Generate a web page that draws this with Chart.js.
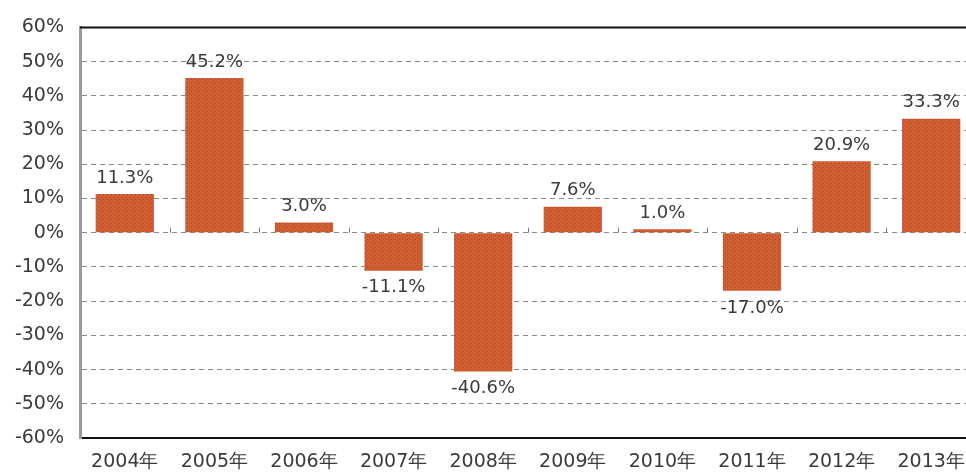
<!DOCTYPE html>
<html>
<head>
<meta charset="utf-8">
<script src="https://cdn.jsdelivr.net/npm/chart.js@4.4.0/dist/chart.umd.min.js"></script>
<style>
  html, body { margin: 0; padding: 0; background: #fff; overflow: hidden; }
  #wrap { width: 966px; height: 472px; overflow: hidden; }
</style>
</head>
<body>
<div id="wrap"><canvas id="canvas" width="1000" height="472"></canvas></div>
<script>
// data
const years = ['2004年', '2005年', '2006年', '2007年', '2008年', '2009年', '2010年', '2011年', '2012年', '2013年'];
const growth = [11.3, 45.2, 3.0, -11.1, -40.6, 7.6, 1.0, -17.0, 20.9, 33.3];
const yMin = -60;
const yMax = 60;
const yStep = 10;

const fontFamily = '"DejaVu Sans", Verdana, sans-serif';

// dotted fill like the original bars
function makePattern() {
    const tile = document.createElement('canvas');
    tile.width = 4;
    tile.height = 4;
    const t = tile.getContext('2d');
    t.fillStyle = '#d0602c';
    t.fillRect(0, 0, 4, 4);
    t.fillStyle = '#b33a4c';
    t.fillRect(1, 1, 1, 1);
    t.fillRect(3, 3, 1, 1);
    return document.getElementById('canvas').getContext('2d').createPattern(tile, 'repeat');
}

const framePlugin = {
    id: 'frame',
    afterDatasetsDraw(chart) {
        const ctx = chart.ctx;
        const area = chart.chartArea;
        const xs = chart.scales.x;
        const ys = chart.scales.y;
        const zeroY = ys.getPixelForValue(0);

        ctx.save();
        // top border
        ctx.strokeStyle = '#111';
        ctx.lineWidth = 2;
        ctx.beginPath();
        ctx.moveTo(area.left, area.top);
        ctx.lineTo(area.right, area.top);
        ctx.stroke();

        // small ticks between categories on the zero line
        const step = xs.getPixelForValue(1) - xs.getPixelForValue(0);
        ctx.strokeStyle = '#777';
        ctx.lineWidth = 1;
        for (let i = 1; i < years.length; i++) {
            const x = Math.round(xs.getPixelForValue(i) - step / 2) + 0.5;
            ctx.beginPath();
            ctx.moveTo(x, zeroY);
            ctx.lineTo(x, zeroY - 5);
            ctx.stroke();
        }

        // value labels
        ctx.fillStyle = '#3a3a3a';
        ctx.font = '18px ' + fontFamily;
        ctx.textAlign = 'center';
        ctx.textBaseline = 'middle';
        const meta = chart.getDatasetMeta(0);
        meta.data.forEach(function(bar, i) {
            const v = growth[i];
            const y = v >= 0 ? bar.y - 16 : bar.y + 17;
            ctx.fillText(v.toFixed(1) + '%', bar.x, y);
        });
        ctx.restore();
    }
};

const ctx = document.getElementById('canvas').getContext('2d');
window.myChart = new Chart(ctx, {
    type: 'bar',
    data: {
        labels: years,
        datasets: [{
            data: growth,
            backgroundColor: makePattern(),
            borderWidth: 0,
            barPercentage: 0.65,
            categoryPercentage: 1.0
        }]
    },
    options: {
        responsive: false,
        animation: false,
        devicePixelRatio: 1,
        layout: { padding: { top: 23, right: 24, left: 0, bottom: 0 } },
        plugins: {
            legend: { display: false },
            tooltip: { enabled: false }
        },
        scales: {
            x: {
                grid: { display: false, drawTicks: false },
                border: { display: true, color: '#111', width: 2 },
                ticks: {
                    color: '#3a3a3a',
                    font: { family: fontFamily, size: 19 },
                    padding: 13,
                    maxRotation: 0
                },
                afterFit: function(scale) { scale.height = 34; }
            },
            y: {
                min: yMin,
                max: yMax,
                grid: {
                    drawTicks: false,
                    color: function(c) {
                        if (c.tick && (c.tick.value === yMin || c.tick.value === yMax)) return 'rgba(0,0,0,0)';
                        return '#8a8a8a';
                    },
                    lineWidth: 1
                },
                border: { display: true, color: '#9a9a9a', width: 3, dash: [5, 4] },
                ticks: {
                    stepSize: yStep,
                    color: '#3a3a3a',
                    font: { family: fontFamily, size: 19 },
                    padding: 16,
                    callback: function(v) { return v + '%'; }
                },
                afterFit: function(scale) { scale.width = 80; }
            }
        }
    },
    plugins: [framePlugin]
});
</script>
</body>
</html>
